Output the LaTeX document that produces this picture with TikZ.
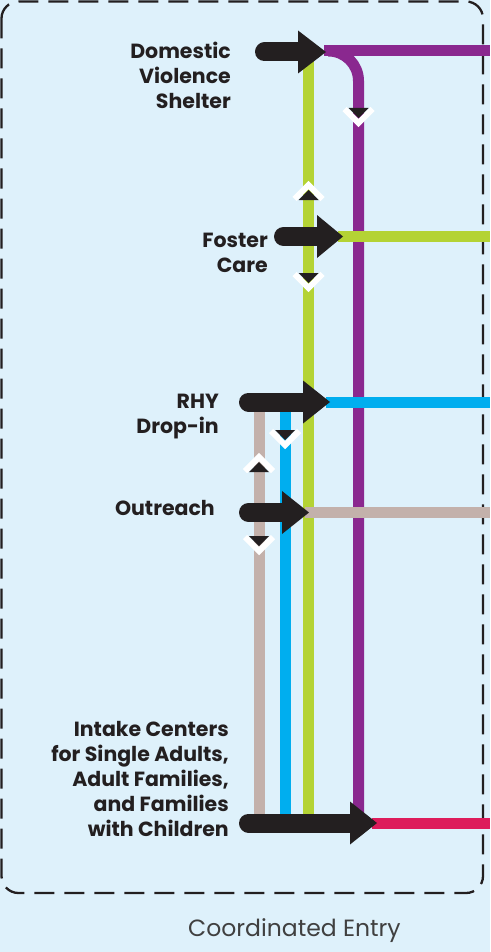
\documentclass[tikz,border=0pt]{standalone}
\usepackage{fontspec}
\setmainfont{Poppins}
\definecolor{bg}{HTML}{DEF1FB}
\definecolor{ink}{HTML}{231F20}
\definecolor{purp}{HTML}{8A288F}
\definecolor{lime}{HTML}{B4D334}
\definecolor{sky}{HTML}{00AEEF}
\definecolor{tan}{HTML}{C3B1AB}
\definecolor{crim}{HTML}{DD1C5B}
\definecolor{greytext}{HTML}{404040}
\tikzset{
  route/.style={line width=11pt},
  shaft/.style={line width=19pt, line cap=round, draw=ink},
  headtri/.style={fill=ink},
  label/.style={font=\fontsize{20.5}{25}\selectfont\bfseries, text=ink, align=right, inner sep=0pt, anchor=north east},
  border/.style={draw=ink, line width=2.3pt, dash pattern=on 20pt off 10pt, rounded corners=17pt},
  downmark/.pic={
    \draw[white, line width=6pt, miter limit=10] (-14,1) -- (0,15) -- (14,1);
    \fill[ink] (-10,0) -- (10,0) -- (0,10) -- cycle;
  },
  upmark/.pic={
    \draw[white, line width=6pt, miter limit=10] (-14,-1) -- (0,-15) -- (14,-1);
    \fill[ink] (-10,0) -- (10,0) -- (0,-10) -- cycle;
  }
}
% tail x, head start x, tip x, y, name
\newcommand\entryarrow[5]{%
  \coordinate (#5tail) at (#1+9.5,#4);
  \coordinate (#5neck) at (#2,#4);
  \coordinate (#5tip) at (#3,#4);
  \draw[shaft] (#5tail) -- (#5neck);
  \fill[ink] (#2,#4-21.5) -- (#5tip) -- (#2,#4+21.5) -- cycle;
}
\begin{document}
\begin{tikzpicture}[x=1pt,y=-1pt]
\useasboundingbox (0,0) rectangle (490,952);
\fill[bg] (0,0) rectangle (490,952);
\draw[border] (1.5,1.5) rectangle (483,893);

% coloured routes
\coordinate (greentop) at (308.5,55);
\coordinate (greenbot) at (308.5,815);
\coordinate (bluetop) at (285,405);
\coordinate (bluebot) at (285,815);
\coordinate (tantop) at (259,405);
\coordinate (tanbot) at (259,815);
\coordinate (purpbot) at (358.5,815);
\coordinate (purpleft) at (324,51);
\coordinate (purpright) at (490,51);
\coordinate (greenend) at (490,236.5);
\coordinate (blueend) at (490,402);
\coordinate (tanend) at (490,512.5);
\coordinate (crimend) at (490,823);

\draw[route, tan] (tantop) -- (tanbot);
\draw[route, sky] (bluetop) -- (bluebot);
\draw[route, lime] (greentop) -- (greenbot);
\draw[route, purp] (purpleft) -- (purpright);
\draw[route, purp, rounded corners=30pt] (328,51) -- (358.5,51) -- (purpbot);
\draw[route, lime] (338,236.5) -- (greenend);
\draw[route, sky] (326,402) -- (blueend);
\draw[route, tan] (305,512.5) -- (tanend);
\draw[route, crim] (372,823) -- (crimend);

% entry arrows
\entryarrow{255}{298}{326}{52}{dv}
\entryarrow{274}{317}{343}{236.5}{fc}
\entryarrow{239}{303}{330}{402}{rhy}
\entryarrow{239}{282}{309}{512.5}{out}
\entryarrow{239}{350}{377}{823}{ic}

% direction markers
\pic at (358.5,108) {downmark};
\pic at (308.5,200) {upmark};
\pic at (308.5,273) {downmark};
\pic at (285,430) {downmark};
\pic at (259,472) {upmark};
\pic at (259,536) {downmark};

% labels
\node[label] (dvlabel) at (231,42) {Domestic\\Violence\\Shelter};
\node[label] (fclabel) at (268,233) {Foster\\Care};
\node[label] (rhylabel) at (219,393.6) {RHY\\Drop-in};
\node[label] (outlabel) at (215,500.3) {Outreach};
\node[label] (iclabel) at (229,721) {Intake Centers\\for Single Adults,\\Adult Families,\\and Families\\with Children};

\node[font=\fontsize{23.5}{28}\selectfont, text=greytext, inner sep=0pt, anchor=base west] (cetitle) at (188,936) {Coordinated Entry};
\end{tikzpicture}
\end{document}
